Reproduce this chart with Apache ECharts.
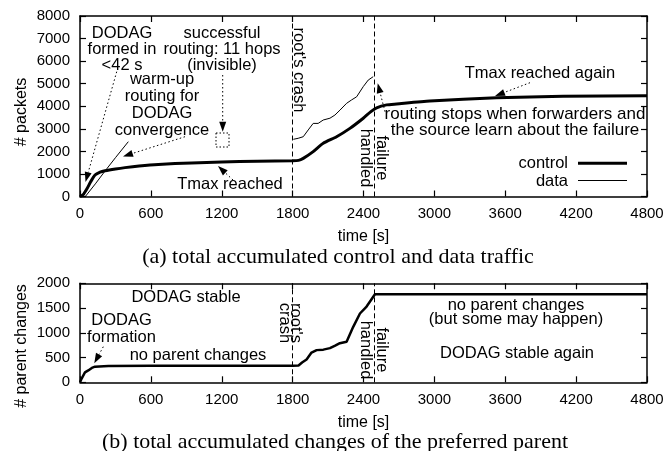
<!DOCTYPE html>
<html>
<head>
<meta charset="utf-8">
<script src="https://cdn.jsdelivr.net/npm/echarts@6/dist/echarts.min.js"></script>
<style>
  html, body { margin: 0; padding: 0; background: #fff; }
  #chart { width: 668px; height: 451px; }
</style>
</head>
<body>
<div id="chart"></div>
<script>
// accumulated control packets [time s, packets]
const controlTraffic = [
  [0, 0], [30, 100], [60, 350], [90, 650], [127, 950], [170, 1080], [212, 1140],
  [300, 1220], [381, 1280], [500, 1350], [663, 1420], [945, 1490], [1200, 1530],
  [1500, 1560], [1800, 1580], [1850, 1600], [1890, 1690], [1974, 1990], [2059, 2360],
  [2172, 2650], [2285, 3020], [2398, 3470], [2460, 3750], [2511, 3930], [2596, 4060],
  [2680, 4100], [2962, 4230], [3526, 4380], [4090, 4440], [4800, 4470]
];
// accumulated data packets: warm-up, then after the root's crash
const dataWarmup = [[45, 0], [130, 560], [212, 1130], [300, 1720], [409, 2430]];
const dataAfterCrash = [
  [1806, 2535], [1847, 2580], [1890, 2650], [1932, 2950], [1974, 3240], [2016, 3240],
  [2059, 3390], [2116, 3470], [2158, 3610], [2201, 3830], [2257, 4130], [2299, 4280],
  [2342, 4420], [2398, 4870], [2440, 5160], [2482, 5310]
];
// accumulated preferred parent changes
const parentChanges = [
  [0, 0], [15, 80], [42, 200], [70, 240], [100, 290], [127, 315], [240, 330],
  [600, 335], [1200, 335], [1800, 335], [1850, 340], [1880, 400], [1918, 460],
  [1960, 600], [2003, 650], [2060, 660], [2116, 690], [2160, 740], [2200, 790],
  [2257, 820], [2313, 1120], [2370, 1390], [2426, 1530], [2497, 1780], [4800, 1780]
];
const crashTime = 1800;
const failureHandledTime = 2490;

const SANS = "'Liberation Sans', Arial, sans-serif";
const SERIF = "'Liberation Serif', 'Times New Roman', serif";
const plain = (v) => String(v);

function xAxes(gridIndex) {
  const base = {
    type: "value", gridIndex: gridIndex, min: 0, max: 4800, interval: 600,
    axisLine: { show: true, onZero: false, lineStyle: { color: "#000", width: 1.5 } },
    axisTick: { show: true, inside: true, length: 6, lineStyle: { color: "#000", width: 1.2 } },
    splitLine: { show: false },
  };
  return [
    Object.assign({}, base, {
      position: "bottom",
      axisLabel: { color: "#000", fontSize: 15, fontFamily: SANS, margin: 10, formatter: plain },
      name: "time [s]", nameLocation: "middle", nameGap: 32,
      nameTextStyle: { color: "#000", fontSize: 16, fontFamily: SANS },
    }),
    Object.assign({}, base, { position: "top", axisLabel: { show: false } }),
  ];
}

function yAxes(gridIndex, max, interval) {
  const base = {
    type: "value", gridIndex: gridIndex, min: 0, max: max, interval: interval,
    axisLine: { show: true, onZero: false, lineStyle: { color: "#000", width: 1.5 } },
    axisTick: { show: true, inside: true, length: 6, lineStyle: { color: "#000", width: 1.2 } },
    splitLine: { show: false },
  };
  return [
    Object.assign({}, base, {
      position: "left",
      axisLabel: { color: "#000", fontSize: 15, fontFamily: SANS, margin: 10, formatter: plain },
    }),
    Object.assign({}, base, { position: "right", axisLabel: { show: false } }),
  ];
}

// vertical dashed markers
function eventLines() {
  return {
    silent: true,
    symbol: ["none", "none"],
    label: { show: false },
    lineStyle: { color: "#000", width: 1, type: [5, 3] },
    data: [{ xAxis: crashTime }, { xAxis: failureHandledTime }],
  };
}

function txt(x, y, text, extra) {
  const el = {
    type: "text", x: x, y: y, z: 100,
    style: {
      text: text, fill: "#000", fontSize: 16.5, fontFamily: SANS,
      align: "center", verticalAlign: "middle",
      textAlign: "center", textVerticalAlign: "middle", lineHeight: 16,
    },
  };
  if (extra) {
    if (extra.rotation !== undefined) el.rotation = extra.rotation;
    Object.assign(el.style, extra.style || {});
  }
  return el;
}

// dotted arrow with filled head at (x2, y2)
function arrow(x1, y1, x2, y2) {
  const dx = x2 - x1, dy = y2 - y1;
  const len = Math.sqrt(dx * dx + dy * dy);
  const ux = dx / len, uy = dy / len;
  const hl = 10, hw = 3.5;
  const bx = x2 - ux * hl, by = y2 - uy * hl;
  return [
    {
      type: "line", z: 100,
      shape: { x1: x1, y1: y1, x2: bx, y2: by },
      style: { stroke: "#000", lineWidth: 1, lineDash: [1.5, 2.5] },
    },
    {
      type: "polygon", z: 100,
      shape: { points: [[x2, y2], [bx - uy * hw, by + ux * hw], [bx + uy * hw, by - ux * hw]] },
      style: { fill: "#000" },
    },
  ];
}

const ROT_CW = -Math.PI / 2;

const graphics = [
  // y axis names
  txt(22, 112, "# packets", { rotation: Math.PI / 2, style: { fontSize: 16 } }),
  txt(22, 346, "# parent changes", { rotation: Math.PI / 2, style: { fontSize: 16 } }),
  // captions
  txt(338, 257, "(a) total accumulated control and data traffic", { style: { fontFamily: SERIF, fontSize: 22 } }),
  txt(335, 442, "(b) total accumulated changes of the preferred parent", { style: { fontFamily: SERIF, fontSize: 22 } }),

  // top plot annotations
  txt(122, 49.5, "DODAG\nformed in\n<42 s"),
  txt(222, 49.5, "successful\nrouting: 11 hops\n(invisible)"),
  txt(162, 104.5, "warm-up\nrouting for\nDODAG\nconvergence", { style: { lineHeight: 17 } }),
  txt(230, 184, "Tmax reached"),
  txt(299, 70, "root's crash", { rotation: ROT_CW }),
  txt(374, 158, "failure\nhandled", { rotation: ROT_CW }),
  txt(540, 73, "Tmax reached again"),
  txt(515, 122.5, "routing stops when forwarders and\nthe source learn about the failure", { style: { lineHeight: 16.5, fontSize: 17 } }),
  // legend
  txt(568, 163, "control", { style: { align: "right", textAlign: "right" } }),
  txt(568, 181, "data", { style: { align: "right", textAlign: "right" } }),
  { type: "line", z: 100, shape: { x1: 578, y1: 163.3, x2: 627, y2: 163.3 }, style: { stroke: "#000", lineWidth: 3 } },
  { type: "line", z: 100, shape: { x1: 578, y1: 180.5, x2: 627, y2: 180.5 }, style: { stroke: "#000", lineWidth: 1 } },
  // invisible routing box
  { type: "rect", z: 100, shape: { x: 216, y: 133, width: 13, height: 14 }, style: { fill: "none", stroke: "#000", lineWidth: 1, lineDash: [1.5, 2] } },

  // bottom plot annotations
  txt(186, 297.5, "DODAG stable"),
  txt(121.5, 329, "DODAG\nformation", { style: { lineHeight: 17 } }),
  txt(198, 355, "no parent changes"),
  txt(290, 323, "root's\ncrash", { rotation: ROT_CW, style: { lineHeight: 11 } }),
  txt(374, 350, "failure\nhandled", { rotation: ROT_CW }),
  txt(516, 312.5, "no parent changes\n(but some may happen)", { style: { lineHeight: 14.5 } }),
  txt(517, 353, "DODAG stable again"),
]
  .concat(arrow(116.7, 71.7, 85.5, 182))
  .concat(arrow(185, 136.7, 123, 156.5))
  .concat(arrow(222.7, 75, 222.7, 131.7))
  .concat(arrow(233, 180, 218, 166))
  .concat(arrow(530, 82.7, 495, 96))
  .concat(arrow(385, 111.7, 377.7, 83.3))
  .concat(arrow(103.3, 346.7, 94.3, 363.3));

const chart = echarts.init(document.getElementById("chart"));
const option = {
  animation: false,
  backgroundColor: "#fff",
  grid: [
    { left: 80, right: 21, top: 16, height: 180.5 },
    { left: 80, right: 21, top: 283.3, height: 99 },
  ],
  xAxis: xAxes(0).concat(xAxes(1)),
  yAxis: yAxes(0, 8000, 1000).concat(yAxes(1, 2000, 500)),
  series: [
    {
      name: "control", type: "line", xAxisIndex: 0, yAxisIndex: 0,
      data: controlTraffic, showSymbol: false, smooth: 0.2,
      lineStyle: { color: "#000", width: 3 },
      markLine: eventLines(),
    },
    {
      name: "data", type: "line", xAxisIndex: 0, yAxisIndex: 0,
      data: dataWarmup, showSymbol: false,
      lineStyle: { color: "#000", width: 1 },
    },
    {
      name: "data", type: "line", xAxisIndex: 0, yAxisIndex: 0,
      data: dataAfterCrash, showSymbol: false,
      lineStyle: { color: "#000", width: 1 },
    },
    {
      name: "parent changes", type: "line", xAxisIndex: 2, yAxisIndex: 2,
      data: parentChanges, showSymbol: false,
      lineStyle: { color: "#000", width: 2.5 },
      markLine: eventLines(),
    },
  ],
  graphic: graphics,
};
chart.setOption(option);
</script>
</body>
</html>
